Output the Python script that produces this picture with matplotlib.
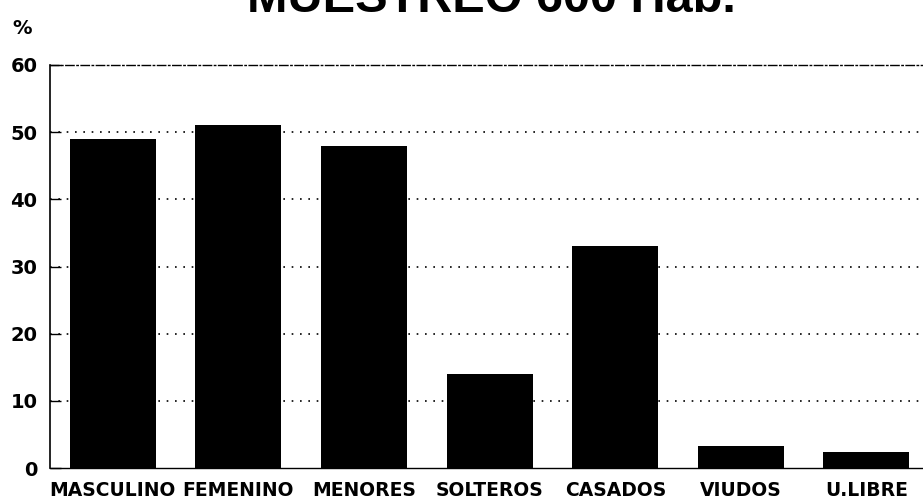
import matplotlib.pyplot as plt

categories = ['MASCULINO', 'FEMENINO', 'MENORES', 'SOLTEROS', 'CASADOS', 'VIUDOS', 'U.LIBRE']
values = [49, 51, 48, 14, 33, 3.3, 2.4]
yticks = [0, 10, 20, 30, 40, 50, 60]

fig = plt.figure(figsize=(9.23, 4.99), dpi=100)
ax = fig.add_axes([50/923, 1 - 468/499, 1 - 50/923, (468 - 65)/499])

x = range(len(categories))
ax.bar(x, values, width=0.685, color='black', zorder=3)

ax.set_xlim(-0.5, 6.45)
ax.set_ylim(0, 60)
ax.set_yticks(yticks)
ax.set_xticks(list(x))
ax.set_xticklabels(categories, fontsize=13.5, fontweight='bold', family='DejaVu Sans')
ax.tick_params(axis='x', length=0, pad=9)
ax.tick_params(axis='y', direction='in', length=8, width=1, pad=9, labelsize=14)
for lab in ax.get_yticklabels():
    lab.set_fontweight('bold')

# dotted grid lines
for v in yticks[1:-1]:
    ax.axhline(v, color='black', linestyle=(0, (1, 4)), linewidth=1.2, zorder=1)

ax.spines['right'].set_visible(False)
ax.spines['top'].set_linestyle((0, (6, 2, 1, 2)))
ax.spines['top'].set_linewidth(1)
ax.spines['bottom'].set_linestyle((0, (8, 1)))
ax.spines['bottom'].set_linewidth(1)
ax.spines['left'].set_linewidth(1.2)

fig.text(491/923, 1 - 12/499, 'MUESTREO 600 Hab.', ha='center', va='baseline',
         fontsize=35, family='Liberation Sans', fontweight='bold')
fig.text(22/923, 1 - 28/499, '%', ha='center', va='center', fontsize=14,
         family='DejaVu Sans', fontweight='bold')

fig.savefig('out.png', dpi=100)
